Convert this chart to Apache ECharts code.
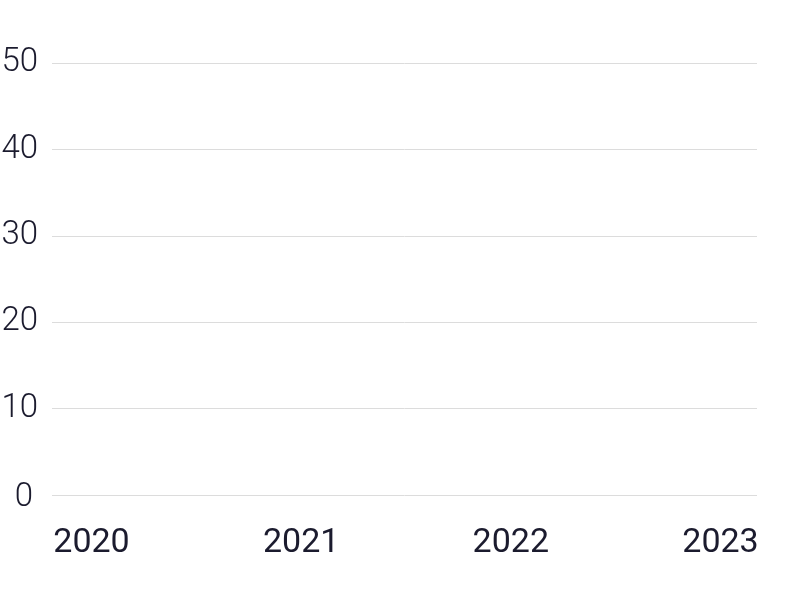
<!DOCTYPE html>
<html>
<head>
<meta charset="utf-8">
<script src="https://cdn.jsdelivr.net/npm/echarts@6/dist/echarts.min.js"></script>
<style>html,body{margin:0;padding:0;background:#fff}#c{width:788px;height:600px}</style>
</head>
<body>
<div id="c"></div>
<script>
const categories = ['2020', '2021', '2022', '2023'];
const values = [null, null, null, null];
const yTicks = [0, 10, 20, 30, 40, 50];

const chart = echarts.init(document.getElementById('c'), null, { renderer: 'canvas' });
const textColor = '#1b1b2e';
const yFont = { color: textColor, fontFamily: 'Roboto', fontSize: 33, fontWeight: 300 };
chart.setOption({
  animation: false,
  backgroundColor: '#ffffff',
  grid: [
    { left: 52, right: 31, top: 63, bottom: 105, containLabel: false, outerBoundsMode: 'none' },
    { left: 91.5, right: 67.5, top: 63, bottom: 105, containLabel: false, outerBoundsMode: 'none' }
  ],
  xAxis: [
    { type: 'category', gridIndex: 0, data: categories, boundaryGap: false,
      axisLine: { show: false }, axisTick: { show: false }, axisLabel: { show: false }, splitLine: { show: false } },
    { type: 'category', gridIndex: 1, data: categories, boundaryGap: false,
      axisLine: { show: false }, axisTick: { show: false }, splitLine: { show: false },
      axisLabel: { show: true, interval: 0, margin: 31, color: textColor, fontFamily: 'Roboto', fontSize: 34, fontWeight: 400 } }
  ],
  yAxis: [
    { type: 'value', gridIndex: 0, min: yTicks[0], max: yTicks[yTicks.length - 1], interval: 10,
      axisLine: { show: false }, axisTick: { show: false },
      splitLine: { show: true, lineStyle: { color: '#dcdcdc', width: 1 } },
      axisLabel: Object.assign({ show: true, margin: 14,
        formatter: function (v) { return v === 0 ? '{z|0}' : String(v); },
        rich: { z: Object.assign({ padding: [6, 5, 0, 0] }, yFont) } }, yFont) },
    { type: 'value', gridIndex: 1, min: 0, max: 50, show: false }
  ],
  series: [
    { type: 'line', xAxisIndex: 0, yAxisIndex: 0, data: values, symbol: 'none', lineStyle: { color: '#1b1b2e' } }
  ]
});
</script>
</body>
</html>
